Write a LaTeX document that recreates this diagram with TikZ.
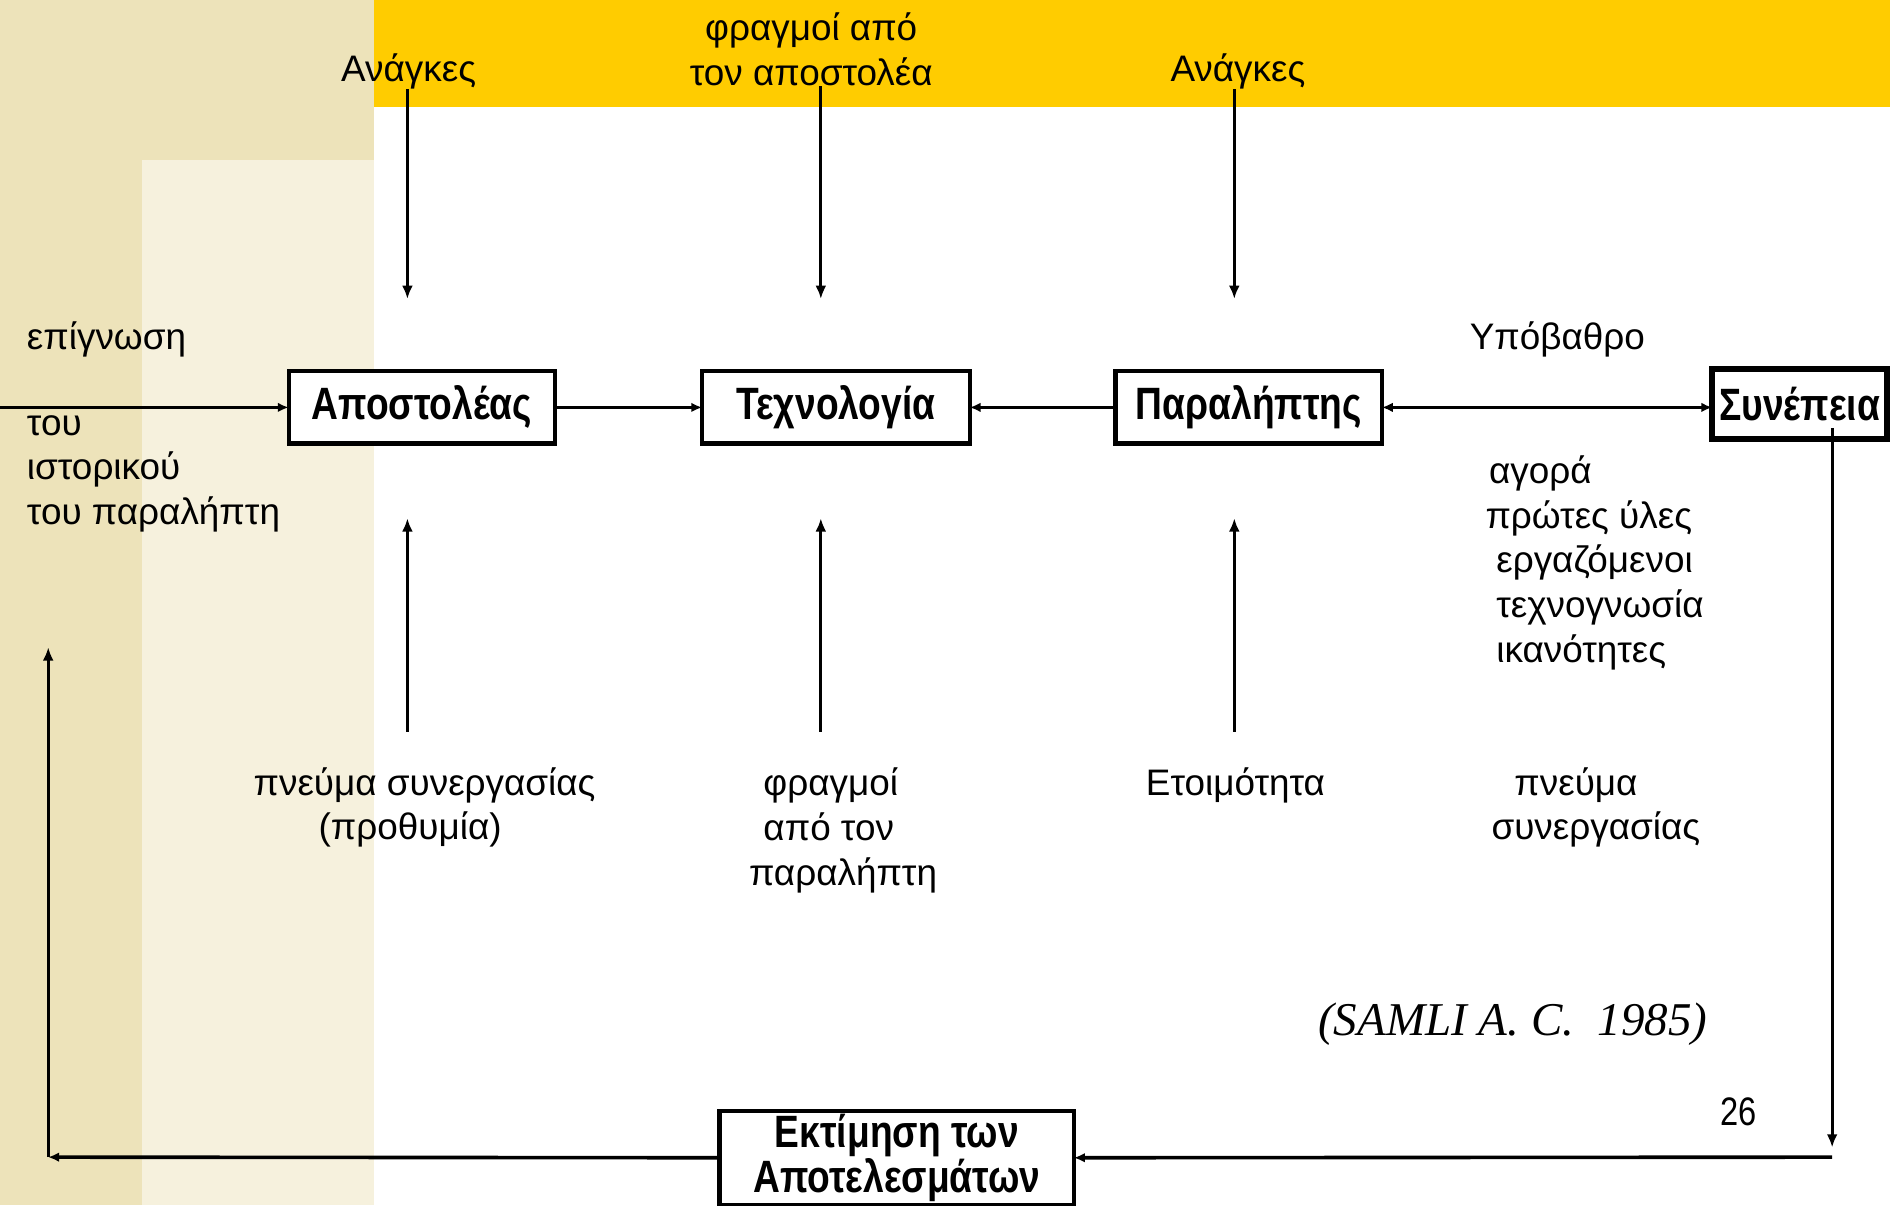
\documentclass[tikz,border=0pt]{standalone}
\usepackage{fontspec}
\setmainfont{Liberation Sans}
\newfontfamily\serifit{Liberation Serif}
\newfontfamily\narrow[FakeStretch=0.82]{Liberation Sans}
\usetikzlibrary{arrows.meta,positioning}
\definecolor{gold}{RGB}{255,204,0}
\definecolor{sanddark}{RGB}{237,227,186}
\definecolor{sandlight}{RGB}{246,241,221}
\tikzset{
  flowtip/.tip={Latex[length=4.5pt,width=4pt]},
  feedtip/.tip={Latex[length=5.5pt,width=4.5pt]}
}
\begin{document}
\begin{tikzpicture}[x=0.5pt,y=-0.5pt,
    every node/.style={font=\fontsize{15.3}{18.5}\selectfont,inner sep=0pt},
    blockbox/.style={draw,line width=1.8pt,fill=white,align=center,outer sep=0pt,
      font=\narrow\bfseries\fontsize{18.8}{18.5}\selectfont},
    flow/.style={line width=1.5pt,-flowtip},
    feed/.style={line width=1.3pt,-feedtip}]
\useasboundingbox (0,0) rectangle (1568,1000);
\fill[sanddark] (0,0) rectangle (310,1000);
\fill[sandlight] (118,133) rectangle (310,1000);
\fill[gold] (310,0) rectangle (1568,89);

\node[blockbox,minimum width=110.5pt,minimum height=30pt] (sender) at (350,338) {Αποστολέας};
\node[blockbox,minimum width=111pt,minimum height=30pt,right=61pt of sender] (tech) {Τεχνολογία};
\node[blockbox,minimum width=110.5pt,minimum height=30pt,right=60.5pt of tech] (receiver) {Παραλήπτης};
\node[blockbox,line width=2.4pt,minimum width=72.5pt,minimum height=29pt] (consist) at (1493,335) {Συνέπεια};
\node[blockbox,minimum width=147pt,minimum height=39pt] (eval) at (744,960.5) {Εκτίμηση των\\Αποτελεσμάτων};

\node (need1) at (339,59) {Ανάγκες};
\node[align=center] (bar1) at (673,41) {φραγμοί από\\τον αποστολέα};
\node (need2) at (1027,59) {Ανάγκες};
\node[anchor=west] (aware) at (22,282) {επίγνωση};
\node[anchor=west,align=left] (history) at (22,393) {του\\ιστορικού\\του παραλήπτη};
\node (base) at (1292,282) {Υπόβαθρο};
\node[anchor=west,align=left] (assets) at (1232,467) {\hspace{1.5pt}αγορά\\πρώτες ύλες\\\hspace{4.5pt}εργαζόμενοι\\\hspace{4.5pt}τεχνογνωσία\\\hspace{4.5pt}ικανότητες};
\node[anchor=west,align=left] (spirit1) at (210,670) {πνεύμα συνεργασίας\\\hspace{27pt}(προθυμία)};
\node[anchor=west,align=left] (bar2) at (621,689) {\hspace{6pt}φραγμοί\\\hspace{6pt}από τον\\παραλήπτη};
\node (ready) at (1025,652) {Ετοιμότητα};
\node[anchor=west,align=left] (spirit2) at (1237,670) {\hspace{9.5pt}πνεύμα\\συνεργασίας};
\node[font=\serifit\itshape\fontsize{19.5}{21}\selectfont] (cite) at (1255,850) {(SAMLI A. C.\ \ 1985)};
\node[font=\narrow\fontsize{16.5}{18}\selectfont] (page) at (1442,922) {26};

\foreach \x [count=\i] in {338,681,1024} {
  \coordinate (top\i) at (\x,248);
  \coordinate (low\i) at (\x,430);
  \coordinate (foot\i) at (\x,607);
}
\draw[feed] (need1.south -| top1) -- (top1);
\draw[feed] (bar1.south -| top2) -- (top2);
\draw[feed] (need2.south -| top3) -- (top3);
\foreach \i in {1,2,3}
  \draw[feed] (foot\i) -- (low\i);

\coordinate (entry) at (0,338);
\coordinate (drop) at (1520,952);
\coordinate (ret) at (1520,960);
\coordinate (corner) at (40,960);
\coordinate (back) at (40,537);
\draw[flow] (entry) -- (sender.west);
\draw[flow] (sender.east) -- (tech.west);
\draw[flow] (receiver.west) -- (tech.east);
\draw[line width=1.5pt,flowtip-flowtip] (receiver.east) -- (receiver.east -| consist.west);
\draw[feed] ([yshift=4.5pt]consist.south -| drop) -- (drop);
\draw[flow] (ret) -- (eval.east);
\draw[flow] (eval.west) -- (corner);
\draw[feed] (corner) -- (back);
\end{tikzpicture}
\end{document}
